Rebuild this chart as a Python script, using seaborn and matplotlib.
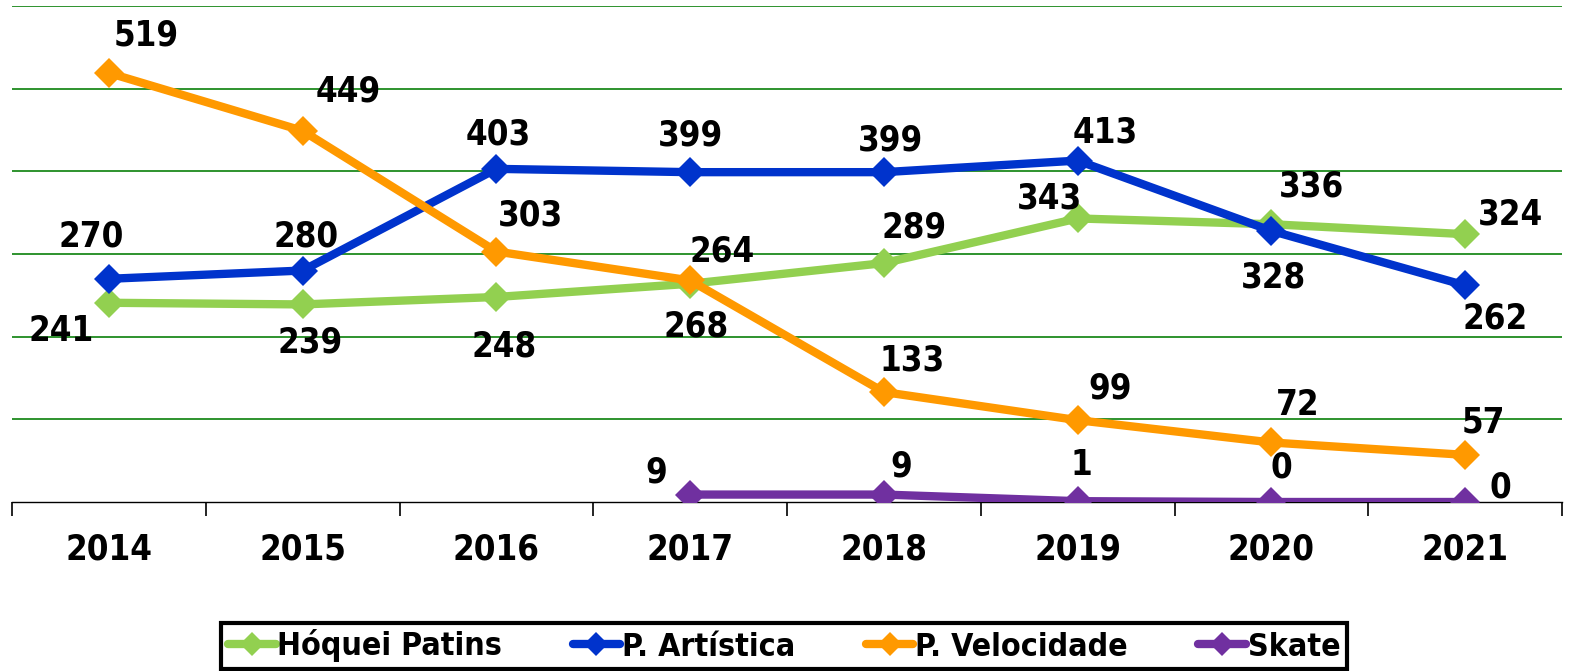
import matplotlib
matplotlib.use("Agg")
import matplotlib.pyplot as plt
import seaborn as sns
import pandas as pd
import numpy as np

# Data
years = ["2014", "2015", "2016", "2017", "2018", "2019", "2020", "2021"]
hoquei = [241, 239, 248, 264, 289, 343, 336, 324]
artistica = [270, 280, 403, 399, 399, 413, 328, 262]
velocidade = [519, 449, 303, 268, 133, 99, 72, 57]
skate = [None, None, None, 9, 9, 1, 0, 0]

series_names = ["Hóquei Patins", "P. Artística", "P. Velocidade", "Skate"]
colors = ["#92d050", "#0033cc", "#ff9900", "#7030a0"]

# label offsets in pixels (dx, dy) relative to each point
offsets = {
    "Hóquei Patins": [(-48, -28), (8, -38), (8, -50), (32, 32), (30, 36), (-28, 20), (40, 38), (45, 20)],
    "P. Artística": [(-18, 42), (3, 34), (2, 34), (0, 37), (7, 32), (28, 28), (2, -47), (30, -33)],
    "P. Velocidade": [(37, 37), (46, 39), (34, 36), (6, -46), (28, 32), (32, 32), (26, 37), (18, 32)],
    "Skate": [None, None, None, (-34, 22), (17, 28), (4, 36), (10, 34), (35, 15)],
}

sns.set_style("white")
plt.rcParams["font.family"] = ["DejaVu Sans"]
plt.rcParams["font.stretch"] = "condensed"
plt.rcParams["font.weight"] = "bold"
plt.rcParams["text.color"] = "black"
plt.rcParams["xtick.color"] = "black"

df = pd.DataFrame({"Ano": years, "Hóquei Patins": hoquei, "P. Artística": artistica,
                   "P. Velocidade": velocidade, "Skate": skate})
df["x"] = np.arange(len(years))

fig = plt.figure(figsize=(15.69, 6.71), dpi=100)
ax = fig.add_axes([12 / 1569, (671 - 502) / 671, 1550 / 1569, 496 / 671])

for name, col in zip(series_names, colors):
    d = df[["x", name]].dropna()
    sns.lineplot(data=d, x="x", y=name, ax=ax, color=col, linewidth=6,
                 marker="D", markersize=15, markeredgewidth=0, label=name)
    for (xi, yi), off in zip(zip(df["x"], df[name]), offsets[name]):
        if off is None or pd.isna(yi):
            continue
        ax.annotate(f"{int(yi)}", (xi, yi), xytext=off, textcoords="offset pixels",
                    ha="center", va="center", fontsize=25, fontweight="bold",
                    fontstretch="condensed", color="black")

ax.set_xlim(-0.5, len(years) - 0.5)
ax.set_ylim(0, 600)
ax.set_yticks(np.arange(100, 601, 100))
ax.yaxis.grid(True, color="#0a800a", linewidth=1.2)
ax.tick_params(axis="y", left=False, labelleft=False)
ax.set_xticks(df["x"])
ax.set_xticklabels(years, fontsize=25, fontweight="bold", fontstretch="condensed", color="black")
ax.set_xticks(np.arange(-0.5, len(years), 1), minor=True)
ax.tick_params(axis="x", which="major", length=0, pad=22)
ax.tick_params(axis="x", which="minor", length=10, width=1.2, color="black", direction="out", bottom=True)
ax.set_xlabel("")
ax.set_ylabel("")
for s in ["top", "right", "left"]:
    ax.spines[s].set_visible(False)
ax.spines["bottom"].set_color("black")
ax.spines["bottom"].set_linewidth(1)
ax.spines["bottom"].set_zorder(1)

handles, labels = ax.get_legend_handles_labels()
ax.get_legend().remove()
leg = fig.legend(handles, labels, loc="center", bbox_to_anchor=(784 / 1569, 1 - 646 / 671),
                 ncol=4, frameon=True, fancybox=False, framealpha=1, fontsize=23,
                 handlelength=1.5, handletextpad=0.05, columnspacing=2.2, borderpad=0.2,
                 borderaxespad=0, markerscale=0.8)
leg.get_frame().set_edgecolor("black")
leg.get_frame().set_linewidth(3)
for t in leg.get_texts():
    t.set_fontweight("bold")
    t.set_fontstretch("condensed")
    t.set_color("black")

fig.savefig("out.png", dpi=100)
